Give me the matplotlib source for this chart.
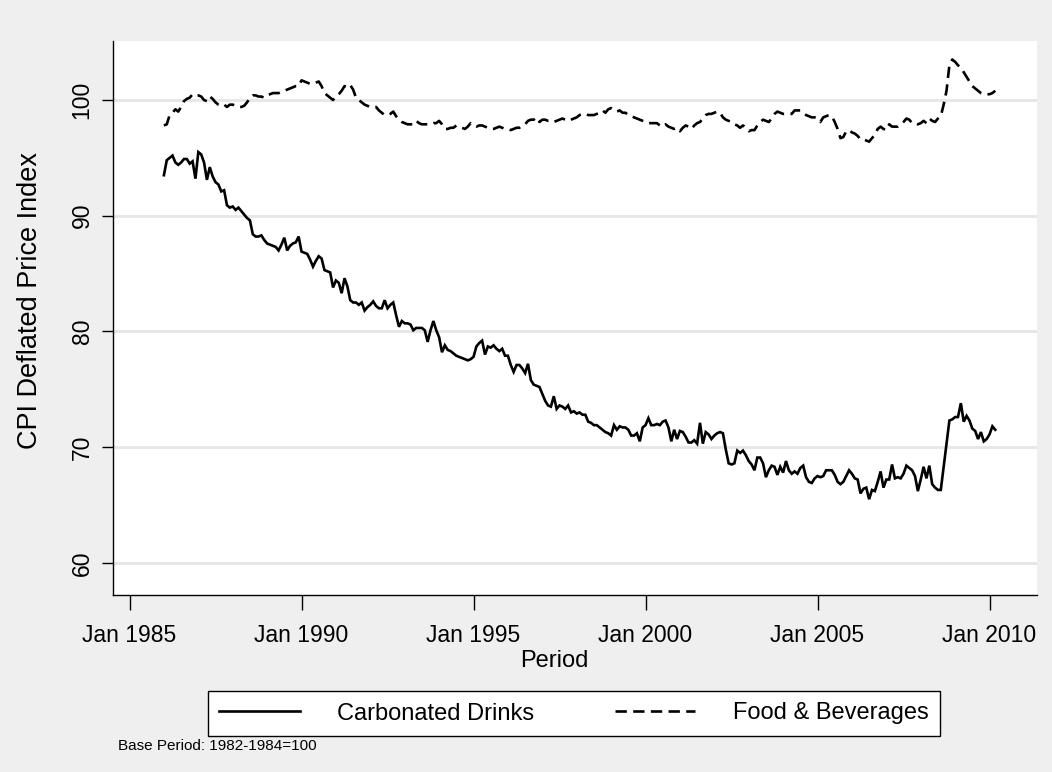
import numpy as np
import matplotlib
matplotlib.use("Agg")
import matplotlib.pyplot as plt

plt.rcParams['font.family'] = ['Liberation Sans', 'DejaVu Sans']

start_year = 1986  # monthly data starting Jan 1986

carbonated = [
    # 1986
    93.5, 94.8, 95.0, 95.2, 94.6, 94.4, 94.6, 94.9, 94.9, 94.5, 94.7, 93.2,
    # 1987
    95.5, 95.3, 94.6, 93.1, 94.2, 93.4, 92.9, 92.7, 92.1, 92.2, 90.9, 90.7,
    # 1988
    90.8, 90.5, 90.7, 90.4, 90.1, 89.8, 89.6, 88.4, 88.2, 88.2, 88.3, 87.9,
    # 1989
    87.6, 87.5, 87.4, 87.3, 87.0, 87.5, 88.1, 87.0, 87.4, 87.6, 87.7, 88.2,
    # 1990
    86.9, 86.8, 86.7, 86.2, 85.6, 86.1, 86.5, 86.3, 85.3, 85.2, 85.1, 83.8,
    # 1991
    84.4, 84.2, 83.3, 84.6, 83.9, 82.7, 82.5, 82.5, 82.3, 82.5, 81.8, 82.1,
    # 1992
    82.3, 82.6, 82.2, 82.0, 82.0, 82.7, 82.0, 82.3, 82.5, 81.4, 80.4, 80.9,
    # 1993
    80.7, 80.7, 80.6, 80.1, 80.3, 80.3, 80.3, 80.1, 79.1, 80.1, 80.9, 80.1,
    # 1994
    79.5, 78.2, 78.8, 78.4, 78.3, 78.1, 77.9, 77.8, 77.7, 77.6, 77.5, 77.6,
    # 1995
    77.8, 78.7, 79.0, 79.2, 78.0, 78.7, 78.6, 78.8, 78.5, 78.3, 78.5, 77.9,
    # 1996
    77.9, 77.1, 76.5, 77.1, 77.1, 76.8, 76.4, 77.2, 75.8, 75.4, 75.3, 75.2,
    # 1997
    74.6, 74.0, 73.6, 73.5, 74.4, 73.3, 73.6, 73.5, 73.3, 73.6, 73.0, 73.1,
    # 1998
    72.9, 73.0, 72.8, 72.8, 72.2, 72.1, 71.9, 71.9, 71.7, 71.5, 71.3, 71.2,
    # 1999
    71.0, 71.9, 71.5, 71.8, 71.7, 71.7, 71.5, 71.0, 71.0, 71.2, 70.5, 71.7,
    # 2000
    71.9, 72.5, 71.9, 71.9, 72.0, 71.9, 72.2, 72.3, 71.7, 70.5, 71.5, 70.7,
    # 2001
    71.4, 71.3, 70.9, 70.4, 70.4, 70.6, 70.3, 72.1, 70.3, 71.3, 71.1, 70.7,
    # 2002
    71.0, 71.2, 71.3, 71.2, 69.8, 68.6, 68.5, 68.6, 69.7, 69.5, 69.7, 69.3,
    # 2003
    68.8, 68.5, 68.0, 69.1, 69.1, 68.6, 67.4, 68.0, 68.4, 68.3, 67.6, 68.3,
    # 2004
    67.8, 68.8, 68.0, 67.7, 67.9, 67.7, 68.2, 68.4, 67.4, 67.0, 66.9, 67.3,
    # 2005
    67.5, 67.4, 67.5, 68.0, 68.0, 68.0, 67.6, 67.0, 66.8, 67.0, 67.5, 68.0,
    # 2006
    67.7, 67.3, 67.2, 66.0, 66.4, 66.5, 65.5, 66.3, 66.2, 67.0, 67.9, 66.5,
    # 2007
    67.2, 67.2, 68.5, 67.3, 67.4, 67.3, 67.7, 68.4, 68.2, 68.0, 67.5, 66.2,
    # 2008
    67.2, 68.3, 67.3, 68.4, 66.8, 66.5, 66.3, 66.3, 68.3, 70.3, 72.3, 72.4,
    # 2009
    72.6, 72.6, 73.8, 72.2, 72.7, 72.3, 71.6, 71.4, 70.7, 71.3, 70.5, 70.7,
    # 2010
    71.1, 71.8, 71.5,
]

food_bev = [
    # 1986
    97.8, 97.9, 98.7, 98.9, 99.2, 99.0, 99.4, 99.9, 100.1, 100.2, 100.5, 100.4,
    # 1987
    100.4, 100.3, 100.0, 99.9, 100.3, 100.1, 99.8, 99.6, 99.5, 99.6, 99.4, 99.6,
    # 1988
    99.6, 99.5, 99.4, 99.4, 99.5, 99.8, 100.2, 100.4, 100.4, 100.3, 100.3, 100.2,
    # 1989
    100.4, 100.5, 100.6, 100.6, 100.6, 100.7, 100.8, 100.9, 101.0, 101.1, 101.2, 101.2,
    # 1990
    101.7, 101.6, 101.5, 101.4, 101.4, 101.5, 101.6, 101.2, 100.6, 100.4, 100.2, 100.0,
    # 1991
    100.3, 100.5, 100.8, 101.2, 101.1, 101.3, 100.9, 100.2, 100.0, 99.8, 99.6, 99.5,
    # 1992
    99.4, 99.4, 99.4, 99.1, 98.9, 98.7, 98.7, 98.8, 99.0, 98.6, 98.3, 98.1,
    # 1993
    98.0, 97.9, 97.9, 97.9, 98.2, 98.0, 97.9, 97.9, 97.9, 97.9, 98.0, 98.0,
    # 1994
    98.2, 97.9, 97.5, 97.5, 97.6, 97.6, 97.8, 97.7, 97.6, 97.5, 97.7, 98.0,
    # 1995
    97.8, 97.7, 97.8, 97.8, 97.7, 97.6, 97.5, 97.5, 97.6, 97.7, 97.6, 97.5,
    # 1996
    97.5, 97.4, 97.5, 97.6, 97.6, 97.8, 97.9, 98.2, 98.3, 98.3, 98.5, 98.1,
    # 1997
    98.3, 98.3, 98.2, 98.2, 98.1, 98.2, 98.3, 98.4, 98.3, 98.2, 98.3, 98.4,
    # 1998
    98.5, 98.7, 98.8, 98.8, 98.7, 98.7, 98.7, 98.8, 98.9, 99.1, 98.9, 99.2,
    # 1999
    99.3, 99.1, 99.0, 99.1, 98.9, 98.9, 98.7, 98.6, 98.5, 98.4, 98.3, 98.2,
    # 2000
    98.1, 98.0, 98.0, 98.0, 98.0, 97.8, 97.7, 97.9, 97.7, 97.6, 97.5, 97.6,
    # 2001
    97.3, 97.6, 97.8, 97.7, 97.5, 97.8, 98.0, 98.1, 98.4, 98.7, 98.8, 98.8,
    # 2002
    98.9, 99.0, 98.9, 98.5, 98.3, 98.2, 98.1, 97.9, 97.8, 97.6, 97.8, 97.6,
    # 2003
    97.3, 97.4, 97.4, 97.8, 98.1, 98.3, 98.2, 98.1, 98.4, 98.8, 99.0, 98.9,
    # 2004
    98.8, 98.8, 98.8, 98.8, 99.1, 99.1, 99.1, 98.9, 98.7, 98.6, 98.5, 98.5,
    # 2005
    98.4, 98.1, 98.5, 98.6, 98.7, 98.6, 98.1, 97.5, 96.7, 96.8, 97.3, 97.4,
    # 2006
    97.2, 97.1, 96.9, 96.6, 96.6, 96.5, 96.4, 96.7, 97.0, 97.5, 97.7, 97.5,
    # 2007
    97.4, 97.9, 97.7, 97.7, 97.7, 97.9, 98.1, 98.4, 98.3, 98.0, 98.0, 97.9,
    # 2008
    98.0, 98.2, 98.0, 98.4, 98.2, 98.1, 98.4, 98.6, 99.6, 100.8, 103.0, 103.5,
    # 2009
    103.3, 103.0, 102.8, 102.4, 102.0, 101.6, 101.2, 101.0, 100.8, 100.6, 100.5, 100.5,
    # 2010
    100.5, 100.6, 100.8,
]

x_ticks = [1985, 1990, 1995, 2000, 2005, 2010]
x_ticklabels = ["Jan 1985", "Jan 1990", "Jan 1995", "Jan 2000", "Jan 2005", "Jan 2010"]
y_ticks = [60, 70, 80, 90, 100]

t = start_year + np.arange(len(carbonated)) / 12.0

W, H = 1052, 772
fig = plt.figure(figsize=(W / 100, H / 100), dpi=100, facecolor='#efefef')
L, R, T, B = 113, 1037, 41, 595
ax = fig.add_axes([L / W, 1 - B / H, (R - L) / W, (B - T) / H])
ax.set_facecolor('white')

for yv in y_ticks:
    ax.axhline(yv, color='#e6e6e6', lw=2.0, zorder=0)

ax.plot(t, carbonated, color='black', lw=1.9, solid_joinstyle='miter',
        label='Carbonated Drinks')
ax.plot(t, food_bev, color='black', lw=1.9, dashes=(4.3, 2.4),
        label='Food & Beverages')

ax.set_xlim(1984.52, 2011.38)
ax.set_ylim(57.22, 105.1)

for s in ['top', 'right']:
    ax.spines[s].set_visible(False)
for s in ['left', 'bottom']:
    ax.spines[s].set_color('black')
    ax.spines[s].set_linewidth(1.0)

ax.set_xticks(x_ticks)
ax.set_xticklabels(x_ticklabels, fontsize=16.5)
ax.set_yticks(y_ticks)
ax.set_yticklabels([str(v) for v in y_ticks], fontsize=16.5, rotation=90, va='center')
ax.tick_params(axis='x', length=11, width=1, pad=10)
ax.tick_params(axis='y', length=8, width=1, pad=6)

fig.text(30 / W, 1 - 300 / H, 'CPI Deflated Price Index', rotation=90,
         ha='center', va='center', fontsize=19.5)
fig.text(554 / W, 1 - 661 / H, 'Period', ha='center', va='center', fontsize=17)

leg = fig.legend(loc='center', bbox_to_anchor=(574 / W, 1 - 713.5 / H), ncol=2,
                 fontsize=17, frameon=True, fancybox=False, edgecolor='black',
                 framealpha=1, handlelength=3.4, columnspacing=3.4,
                 borderpad=0.5, handletextpad=1.6)
leg.get_frame().set_linewidth(1.0)

fig.text(118 / W, 1 - 746 / H, 'Base Period: 1982-1984=100', ha='left',
         va='center', fontsize=11)

fig.savefig('out.png', dpi=100, facecolor=fig.get_facecolor())
